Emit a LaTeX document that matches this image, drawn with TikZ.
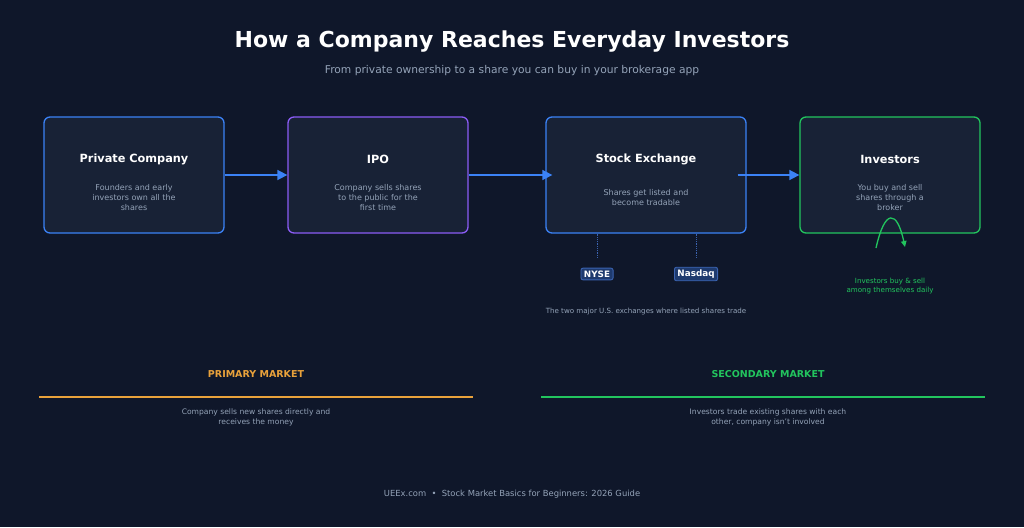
\documentclass[tikz,border=0pt]{standalone}
\usepackage{fontspec}
\setmainfont{DejaVu Sans}
\usetikzlibrary{arrows.meta,positioning}
\usepackage{xcolor}

\definecolor{bgnavy}{HTML}{0F172A}
\definecolor{cardfill}{HTML}{182236}
\definecolor{stepblue}{HTML}{3B82F6}
\definecolor{steppurple}{HTML}{8B5CF6}
\definecolor{stepgreen}{HTML}{22C55E}
\definecolor{marketorange}{HTML}{E9A23B}
\definecolor{mutedtext}{HTML}{94A3B8}
\definecolor{tagfill}{HTML}{1E3A6E}
\definecolor{tagdraw}{HTML}{3B63B0}

\begin{document}
\begin{tikzpicture}[
  x=1pt, y=-1pt,
  >=Triangle,
  card/.style={
    draw=#1,
    fill=cardfill,
    line width=1.3pt,
    rounded corners=6pt,
    minimum width=180pt,
    minimum height=116pt,
    inner sep=0pt
  },
  cardtitle/.style={
    font=\fontsize{11.3}{14}\selectfont\bfseries,
    text=white,
    align=center
  },
  carddesc/.style={
    font=\fontsize{8}{10}\selectfont,
    text=mutedtext,
    align=center
  },
  flow/.style={->,line width=1.6pt,draw=stepblue,
    >={Triangle[length=10pt,width=10pt]}},
  tag/.style={
    draw=tagdraw,
    fill=tagfill,
    line width=0.9pt,
    rounded corners=2pt,
    text=white,
    font=\fontsize{8.8}{10}\selectfont\bfseries,
    inner xsep=3pt,
    inner ysep=2.5pt
  },
  tagline/.style={densely dotted,draw=tagdraw,line width=0.8pt},
  smallnote/.style={font=\fontsize{7.1}{8.5}\selectfont,align=center},
  markethead/.style={font=\fontsize{9.5}{11}\selectfont\bfseries},
  marketline/.style={line width=2.2pt,draw=#1},
  marketdesc/.style={font=\fontsize{7.6}{10}\selectfont,text=mutedtext,align=center}
]
  % Background and page frame.
  \fill[bgnavy] (0,0) rectangle (1024,527);
  \useasboundingbox (0,0) rectangle (1024,527);

  % Heading.
  \node[font=\fontsize{22}{26}\selectfont\bfseries,text=white] (title) at (512,42)
    {How a Company Reaches Everyday Investors};
  \node[font=\fontsize{10.7}{13}\selectfont,text=mutedtext] (subtitle) at (512,71)
    {From private ownership to a share you can buy in your brokerage app};

  % The four stages.
  \node[card=stepblue] (private) at (134,175) {};
  \node[cardtitle] (privatetitle) at (134,159) {Private Company};
  \node[carddesc] (privatedesc) at (134,198)
    {Founders and early\\investors own all the\\shares};

  \node[card=steppurple] (ipo) at (378,175) {};
  \node[cardtitle] (ipotitle) at (378,159) {IPO};
  \node[carddesc] (ipodesc) at (378,198)
    {Company sells shares\\to the public for the\\first time};

  \node[card=stepblue,minimum width=200pt] (exchange) at (646,175) {};
  \node[cardtitle] (exchangetitle) at (646,159) {Stock Exchange};
  \node[carddesc] (exchangedesc) at (646,198)
    {Shares get listed and\\become tradable};

  \node[card=stepgreen] (investors) at (890,175) {};
  \node[cardtitle] (investorstitle) at (890,159) {Investors};
  \node[carddesc] (investorsdesc) at (890,198)
    {You buy and sell\\shares through a\\broker};

  \draw[flow] (private.east) -- (ipo.west);
  \draw[flow] (ipo.east) -- ([xshift=7pt]exchange.west);
  \draw[flow] ([xshift=-9pt]exchange.east) -- (investors.west);

  % Exchanges below the listing stage.
  \node[tag] (nyse) at (597,274) {NYSE};
  \node[tag] (nasdaq) at (696,274) {Nasdaq};
  \draw[tagline] (nyse.north |- exchange.south) -- ([yshift=9pt]nyse.north);
  \draw[tagline] (nasdaq.north |- exchange.south) -- ([yshift=9pt]nasdaq.north);
  \node[smallnote,text=mutedtext] (exchangenote) at (646,312)
    {The two major U.S. exchanges where listed shares trade};

  % Trading among investors.
  \coordinate (loopstart) at (876,248);
  \coordinate (loopend) at (905,247);
  \draw[->,line width=1.3pt,draw=stepgreen,>={Triangle[length=6pt,width=5.5pt]}]
    (loopstart) .. controls (885,208) and (897,210) .. (loopend);
  \node[smallnote,text=stepgreen] (tradenote) at (890,286)
    {Investors buy \& sell\\among themselves daily};

  % Primary and secondary market bands.
  \node[markethead,text=marketorange] (primary) at (256,374) {PRIMARY MARKET};
  \coordinate (primaryleft) at (39,397);
  \coordinate (primaryright) at (473,397);
  \draw[marketline=marketorange] (primaryleft) -- (primaryright);
  \node[marketdesc] (primarydesc) at (256,417)
    {Company sells new shares directly and\\receives the money};

  \node[markethead,text=stepgreen] (secondary) at (768,374) {SECONDARY MARKET};
  \coordinate (secondaryleft) at (541,397);
  \coordinate (secondaryright) at (985,397);
  \draw[marketline=stepgreen] (secondaryleft) -- (secondaryright);
  \node[marketdesc] (secondarydesc) at (768,417)
    {Investors trade existing shares with each\\other, company isn't involved};

  % Footer.
  \node[font=\fontsize{8.4}{10}\selectfont,text=mutedtext] (footer) at (512,494)
    {UEEx.com\ \ \textbullet\ \ Stock Market Basics for Beginners: 2026 Guide};
\end{tikzpicture}
\end{document}
